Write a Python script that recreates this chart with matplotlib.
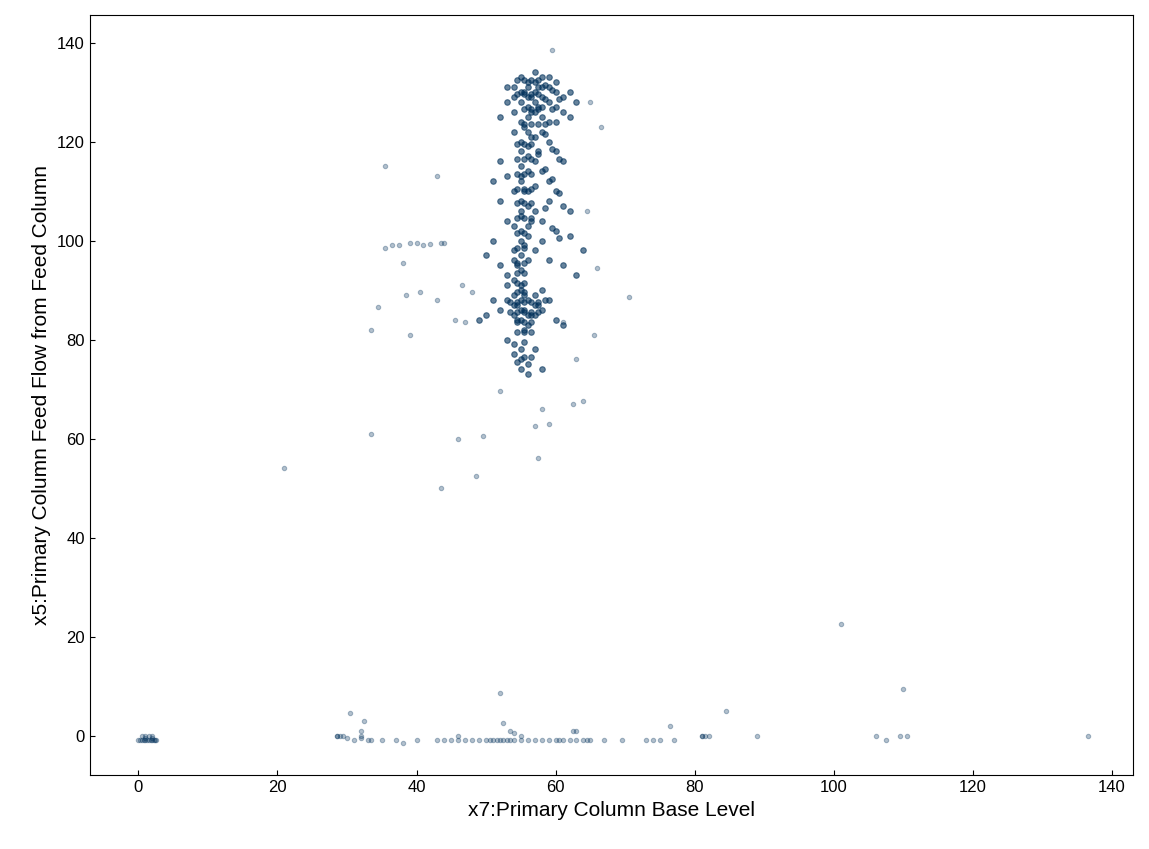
import matplotlib
matplotlib.use("Agg")
import matplotlib.pyplot as plt

plt.rcParams["font.family"] = ["Liberation Sans", "DejaVu Sans"]

# dense operating region (x7, x5)
core_x = [53, 54, 55, 56, 57, 58, 59, 60, 61, 54, 55, 56, 57, 58, 59, 60, 55, 56, 57, 58, 59, 56, 57, 58, 59, 55,
          54, 57, 56, 58, 55, 57, 59, 60, 62, 61, 60, 58, 56, 54, 53, 52, 62, 63,
          55, 56, 55, 56, 55, 54, 55, 56, 55, 54, 55, 56, 55, 54, 55, 56, 55, 54, 55, 56, 57, 58, 59, 60, 61, 62,
          60, 61, 59, 58, 60, 62, 53, 52, 51, 52, 53, 51, 50, 52, 53, 55, 56, 55, 56, 54, 57, 58, 59, 61, 63, 64, 57, 57,
          53, 54, 55, 56, 57, 58, 54, 55, 56, 57, 55, 53, 52, 59, 60, 61, 54, 56, 57, 55, 58, 50, 51, 49,
          54, 55, 55, 56, 55, 54, 56, 57, 58, 53,
          55.5, 56.5, 57.5, 55.5, 56.5, 57.5, 55.5, 56.5, 55.5, 54.5, 55.5, 54.5, 55.5, 54.5, 55.5, 56.5, 57.5, 58.5, 56.5, 57.5,
          54.5, 55.5, 56.5, 57.5, 58.5, 59.5, 60.5, 54.5, 55.5, 56.5, 57.5, 58.5, 59.5, 55.5, 56.5, 57.5, 58.5, 55.5, 56.5, 57.5,
          54.5, 55.5, 56.5, 54.5, 55.5, 56.5, 54.5, 55.5, 56.5, 54.5, 55.5, 56.5, 54.5, 55.5, 56.5, 54.5, 55.5, 56.5, 54.5, 55.5,
          54.5, 55.5, 54.5, 55.5, 54.5, 55.5, 54.5, 55.5, 54.5, 55.5, 53.5, 54.5, 55.5, 56.5, 57.5, 53.5, 54.5, 55.5, 56.5, 57.5,
          54.5, 55.5, 56.5, 54.5, 55.5, 56.5, 55.5, 55.5, 54.5, 56.5, 58.5, 59.5, 60.5, 57.5, 58.5, 59.5, 60.5, 58.5, 59.5, 60.5]
core_y = [128, 131, 133, 132, 134, 133, 131, 130, 129, 126, 128, 129, 130, 129, 128, 127, 124, 125, 126, 125, 124, 122, 121, 122, 120, 120,
          122, 128, 131, 131, 130, 132, 133, 132, 130, 126, 124, 127, 127, 129, 131, 125, 125, 128,
          118, 117, 115, 114, 112, 110, 108, 107, 105, 103, 102, 101, 100, 98, 97, 96, 94, 92, 91, 119, 116, 114, 112, 110, 107, 106,
          118, 116, 108, 104, 102, 101, 113, 116, 112, 108, 104, 100, 97, 95, 93, 113, 110, 106, 103, 96, 98, 100, 96, 95, 93, 98, 111, 106,
          88, 87, 86, 88, 87, 86, 85, 84, 85, 89, 90, 91, 86, 88, 84, 83, 89, 83, 85, 88, 90, 85, 88, 84,
          79, 78, 76, 75, 74, 77, 73, 78, 74, 80,
          130, 129, 127, 123, 121, 118, 110, 104, 99, 95, 89, 87, 86, 84, 82, 85, 87, 88, 126, 131,
          132.5, 132.5, 132.5, 132.5, 131.5, 130.5, 128.5, 129.5, 129.5, 129.5, 129.5, 128.5, 126.5, 126.5, 126.5, 126.5, 123.5, 123.5, 123.5, 123.5,
          119.5, 119.5, 119.5, 116.5, 116.5, 116.5, 113.5, 113.5, 113.5, 110.5, 110.5, 110.5, 107.5, 107.5, 107.5, 104.5, 104.5, 104.5, 101.5, 101.5,
          98.5, 98.5, 95.5, 95.5, 93.5, 93.5, 91.5, 91.5, 89.5, 89.5, 87.5, 87.5, 87.5, 87.5, 87.5, 85.5, 85.5, 85.5, 85.5, 85.5,
          83.5, 83.5, 83.5, 81.5, 81.5, 81.5, 79.5, 76.5, 75.5, 76.5, 121.5, 118.5, 116.5, 117.5, 114.5, 112.5, 109.5, 106.5, 102.5, 100.5]

# scattered outliers
out_x = [21, 33.5, 33.5, 34.5, 35.5, 35.5, 36.5, 37.5, 38, 38.5, 39, 39, 40, 40.5, 41, 42, 43, 43.5, 43, 44, 43.5, 45.5,
         46, 46.5, 47, 48.5, 49.5, 48, 57.5, 57, 58, 59, 62.5, 64, 65.5, 66, 66.5, 65, 70.5, 59.5, 63, 61, 64.5, 52,
         101, 84.5, 110, 52, 52.5, 30.5, 32.5, 32, 76.5, 62.5, 53.5, 63]
out_y = [54, 61, 82, 86.5, 115, 98.5, 99, 99, 95.5, 89, 81, 99.5, 99.5, 89.5, 99, 99.3, 113, 99.5, 88, 99.5, 50, 84,
         60, 91, 83.5, 52.5, 60.5, 89.5, 56, 62.5, 66, 63, 67, 67.5, 81, 94.5, 123, 128, 88.5, 138.5, 76, 83.5, 106, 69.5,
         22.5, 5, 9.5, 8.5, 2.5, 4.5, 3, 1, 2, 1, 1, 1]

# shutdown / low-flow band
low_x = [0, 0.5, 1, 1.5, 2, 2.5, 1, 1.5, 2, 0.5, 1, 2, 0.2, 0.8, 1.2, 1.8, 2.2, 2.4,
         28.5, 29, 30, 31, 32, 33, 33.5, 35, 37, 38, 40, 43, 44, 45, 46, 47, 48, 49, 50, 50.5, 51, 51.5, 52, 52.5,
         53, 53.5, 54, 55, 56, 57, 58, 59, 60, 60.5, 61, 62, 63, 64, 64.5, 65, 67, 69.5, 73, 74, 75, 77,
         81, 81.5, 82, 81, 89, 106, 107.5, 109.5, 110.5, 136.5, 28.5, 29.5, 32, 46, 54, 55]
low_y = [-1, -1, -1, -1, -1, -1, 0, 0, 0, 0, -0.5, -0.5, -1, -1, -1, -1, -1, -1,
         0, 0, -0.5, -1, -0.5, -1, -1, -1, -1, -1.5, -1, -1, -1, -1, -1, -1, -1, -1, -1, -1, -1, -1, -1, -1,
         -1, -1, -1, -1, -1, -1, -1, -1, -1, -1, -1, -1, -1, -1, -1, -1, -1, -1, -1, -1, -1, -1,
         0, 0, 0, 0, 0, 0, -1, 0, 0, 0, 0, 0, 0, 0, 0.5, 0]

fig, ax = plt.subplots(figsize=(11.49, 8.49), dpi=100)
color = "#00305a"
# core drawn more opaque to stand in for thousands of overlapping samples
ax.scatter(core_x, core_y, s=16, color=color, alpha=0.6, edgecolors=color, linewidths=0.8)
for xs, ys in [(out_x, out_y), (low_x, low_y)]:
    ax.scatter(xs, ys, s=10, color=color, alpha=0.3, edgecolors=color, linewidths=0.8)

ax.set_xlim(-7, 143)
ax.set_ylim(-8, 145.5)
ax.tick_params(direction="in", labelsize=12)
ax.set_xlabel("x7:Primary Column Base Level", fontsize=15)
ax.set_ylabel("x5:Primary Column Feed Flow from Feed Column", fontsize=15)
fig.subplots_adjust(left=0.078, right=0.986, top=0.982, bottom=0.087)
fig.savefig("out.png")
